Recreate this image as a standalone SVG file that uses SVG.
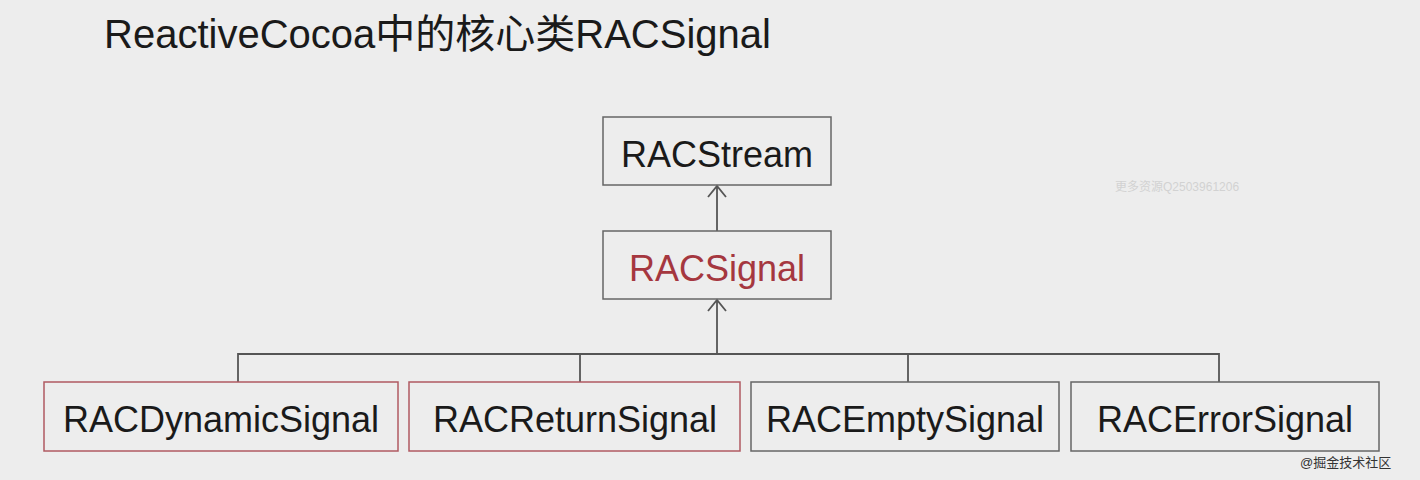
<svg xmlns="http://www.w3.org/2000/svg" width="1420" height="480" viewBox="0 0 1420 480">
<style>
.box{fill:none;stroke:#666;stroke-width:1.5}
.red{stroke:#b05a62}
.t{font-family:"Liberation Sans","Noto Sans CJK SC",sans-serif;font-size:36px;fill:#1a1a1a;text-anchor:middle}
.c{fill:none;stroke:#555;stroke-width:1.8}
</style>
<rect width="1420" height="480" fill="#ededed"/>
<text x="104" y="48" font-family="Liberation Sans,'Noto Sans CJK SC',sans-serif" font-size="40" fill="#1a1a1a">ReactiveCocoa中的核心类RACSignal</text>
<text x="1115" y="191" font-family="Liberation Sans,'Noto Sans CJK SC',sans-serif" font-size="12" fill="#d2d2d2">更多资源Q2503961206</text>
<text x="1300" y="467" font-family="Liberation Sans,'Noto Sans CJK SC',sans-serif" font-size="13" fill="#333">@掘金技术社区</text>
<g id="connectors">
<path class="c" d="M717,231 V187 M708,197 L717,186 L726,197"/>
<path class="c" d="M717,354 V301 M708,311 L717,300 L726,311"/>
<path class="c" d="M238,382 V354 H1219 V382 M580,354 V382 M908,354 V382"/>
</g>
<g id="RACStream"><rect class="box" x="603" y="117" width="228" height="68"/><text class="t" x="717" y="167">RACStream</text></g>
<g id="RACSignal"><rect class="box" x="603" y="231" width="228" height="68"/><text class="t" x="717" y="281" style="fill:#a5373f">RACSignal</text></g>
<g id="RACDynamicSignal"><rect class="box red" x="44" y="382" width="354" height="69"/><text class="t" x="221" y="432">RACDynamicSignal</text></g>
<g id="RACReturnSignal"><rect class="box red" x="409" y="382" width="331" height="69"/><text class="t" x="575" y="432">RACReturnSignal</text></g>
<g id="RACEmptySignal"><rect class="box" x="751" y="382" width="308" height="69"/><text class="t" x="905" y="432">RACEmptySignal</text></g>
<g id="RACErrorSignal"><rect class="box" x="1071" y="382" width="308" height="69"/><text class="t" x="1225" y="432">RACErrorSignal</text></g>
</svg>
